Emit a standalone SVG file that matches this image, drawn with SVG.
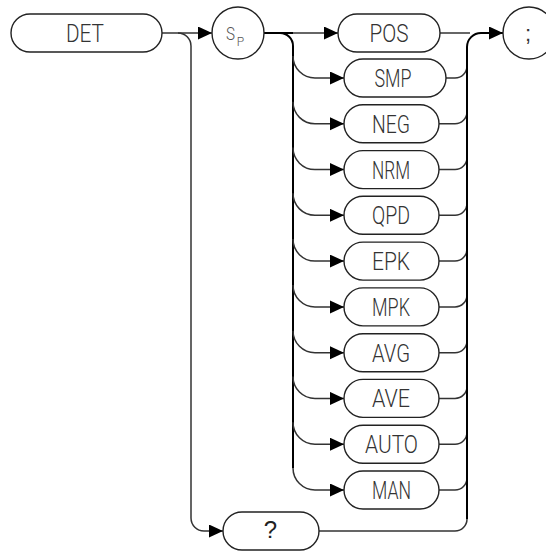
<svg xmlns="http://www.w3.org/2000/svg" width="546" height="551" viewBox="0 0 546 551">
<style>
.pill{fill:#fff;stroke:#222;stroke-width:1.4}
.circ{fill:#fff;stroke:#222;stroke-width:1.4}
.lbl{font-family:Roboto,"Liberation Sans",Arial,sans-serif;font-weight:300;font-size:26.5px;fill:#333;text-anchor:middle}
.c{fill:none;stroke:#333;stroke-width:1.5}
.k{fill:none;stroke:#000;stroke-width:2}
</style>
<defs>
<marker id="arr" markerUnits="userSpaceOnUse" markerWidth="15" markerHeight="14" refX="14" refY="6.5" orient="auto">
<path d="M0,0 L14,6.5 L0,13 Z" fill="#000"/>
</marker>
</defs>
<rect width="546" height="551" fill="#fff"/>
<g id="connectors">
<path class="c" d="M162,33 H212" marker-end="url(#arr)"/>
<path class="c" d="M178,33 A13,13 0 0 1 191,46 V518 A13,13 0 0 0 204,531 H223" marker-end="url(#arr)"/>
<path class="k" d="M264,33 H293"/>
<path class="c" d="M293,33 H338" marker-end="url(#arr)"/>
<path class="k" d="M280,33 A13,13 0 0 1 293,46 V468"/>
<path class="c" d="M293,56 A22,22 0 0 0 315,78 H344" marker-end="url(#arr)"/>
<path class="c" d="M293,101.8 A22,22 0 0 0 315,123.8 H344" marker-end="url(#arr)"/>
<path class="c" d="M293,147.6 A22,22 0 0 0 315,169.6 H344" marker-end="url(#arr)"/>
<path class="c" d="M293,193.3 A22,22 0 0 0 315,215.3 H344" marker-end="url(#arr)"/>
<path class="c" d="M293,239.1 A22,22 0 0 0 315,261.1 H344" marker-end="url(#arr)"/>
<path class="c" d="M293,284.9 A22,22 0 0 0 315,306.9 H344" marker-end="url(#arr)"/>
<path class="c" d="M293,330.7 A22,22 0 0 0 315,352.7 H344" marker-end="url(#arr)"/>
<path class="c" d="M293,376.4 A22,22 0 0 0 315,398.4 H344" marker-end="url(#arr)"/>
<path class="c" d="M293,422.2 A22,22 0 0 0 315,444.2 H344" marker-end="url(#arr)"/>
<path class="c" d="M293,468 A22,22 0 0 0 315,490 H344" marker-end="url(#arr)"/>
<path class="c" d="M440,33 H470"/>
<path class="c" d="M446,78 H455 A12,12 0 0 0 467,66"/>
<path class="c" d="M439,123.8 H455 A12,12 0 0 0 467,111.8"/>
<path class="c" d="M439,169.6 H455 A12,12 0 0 0 467,157.6"/>
<path class="c" d="M439,215.3 H455 A12,12 0 0 0 467,203.3"/>
<path class="c" d="M439,261.1 H455 A12,12 0 0 0 467,249.1"/>
<path class="c" d="M439,306.9 H455 A12,12 0 0 0 467,294.9"/>
<path class="c" d="M439,352.7 H455 A12,12 0 0 0 467,340.7"/>
<path class="c" d="M439,398.4 H455 A12,12 0 0 0 467,386.4"/>
<path class="c" d="M439,444.2 H455 A12,12 0 0 0 467,432.2"/>
<path class="c" d="M439,490 H455 A12,12 0 0 0 467,478"/>
<path class="c" d="M319,531 H455 A12,12 0 0 0 467,519"/>
<path class="k" d="M467,519 V47 A14,14 0 0 1 481,33 H503" marker-end="url(#arr)"/>
</g>
<g id="node-det"><rect class="pill" x="11" y="14" width="151" height="38" rx="19"/><text class="lbl" x="85" y="42" textLength="38" lengthAdjust="spacingAndGlyphs">DET</text></g>
<g id="node-sp"><circle class="circ" cx="238" cy="33" r="26"/><text x="230.5" y="40" font-family="Roboto,Liberation Sans,Arial,sans-serif" font-weight="300" font-size="19" fill="#555" text-anchor="middle" textLength="9" lengthAdjust="spacingAndGlyphs">S</text><text x="240.5" y="45.5" font-family="Roboto,Liberation Sans,Arial,sans-serif" font-weight="300" font-size="12" fill="#555" text-anchor="middle">P</text></g>
<g id="node-pos"><rect class="pill" x="338" y="14" width="102" height="38" rx="19"/><text class="lbl" x="389" y="42" textLength="39" lengthAdjust="spacingAndGlyphs">POS</text></g>
<g id="node-smp"><rect class="pill" x="344" y="59" width="102" height="38" rx="19"/><text class="lbl" x="393" y="87" textLength="37" lengthAdjust="spacingAndGlyphs">SMP</text></g>
<g id="node-neg"><rect class="pill" x="344" y="104.8" width="95" height="38" rx="19"/><text class="lbl" x="391" y="132.8" textLength="38" lengthAdjust="spacingAndGlyphs">NEG</text></g>
<g id="node-nrm"><rect class="pill" x="344" y="150.6" width="95" height="38" rx="19"/><text class="lbl" x="391" y="178.6" textLength="38" lengthAdjust="spacingAndGlyphs">NRM</text></g>
<g id="node-qpd"><rect class="pill" x="344" y="196.3" width="95" height="38" rx="19"/><text class="lbl" x="391" y="224.3" textLength="38" lengthAdjust="spacingAndGlyphs">QPD</text></g>
<g id="node-epk"><rect class="pill" x="344" y="242.1" width="95" height="38" rx="19"/><text class="lbl" x="391" y="270.1" textLength="38" lengthAdjust="spacingAndGlyphs">EPK</text></g>
<g id="node-mpk"><rect class="pill" x="344" y="287.9" width="95" height="38" rx="19"/><text class="lbl" x="391" y="315.9" textLength="38" lengthAdjust="spacingAndGlyphs">MPK</text></g>
<g id="node-avg"><rect class="pill" x="344" y="333.7" width="95" height="38" rx="19"/><text class="lbl" x="391" y="361.7" textLength="38" lengthAdjust="spacingAndGlyphs">AVG</text></g>
<g id="node-ave"><rect class="pill" x="344" y="379.4" width="95" height="38" rx="19"/><text class="lbl" x="391" y="407.4" textLength="38" lengthAdjust="spacingAndGlyphs">AVE</text></g>
<g id="node-auto"><rect class="pill" x="344" y="425.2" width="95" height="38" rx="19"/><text class="lbl" x="391.5" y="453.2" textLength="53" lengthAdjust="spacingAndGlyphs">AUTO</text></g>
<g id="node-man"><rect class="pill" x="344" y="471" width="95" height="38" rx="19"/><text class="lbl" x="391.5" y="499" textLength="39" lengthAdjust="spacingAndGlyphs">MAN</text></g>
<g id="node-query"><rect class="pill" x="223" y="512" width="96" height="38" rx="19"/><text x="270.5" y="538" font-family="Liberation Sans,Arial,sans-serif" font-size="24" fill="#222" text-anchor="middle">?</text></g>
<g id="node-semi"><circle class="circ" cx="529" cy="33" r="26"/><text x="528" y="41" font-family="Liberation Sans,Arial,sans-serif" font-size="22" fill="#333" text-anchor="middle">;</text></g>
</svg>
